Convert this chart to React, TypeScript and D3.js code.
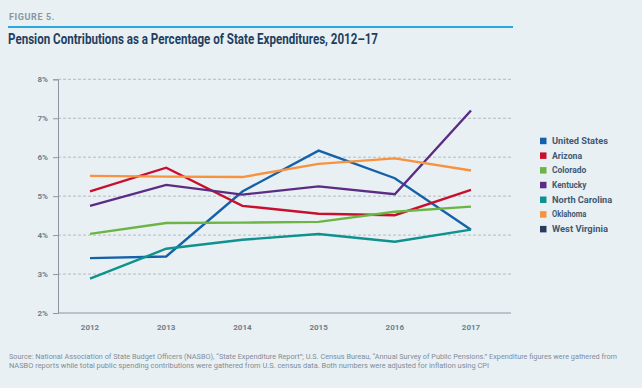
import * as d3 from 'd3'
import React, { useEffect, useRef } from 'react'

const years = ['2012', '2013', '2014', '2015', '2016', '2017']
const yTicks = [2, 3, 4, 5, 6, 7, 8]

const unitedStates = [3.41, 3.45, 5.12, 6.17, 5.46, 4.14]
const arizona = [5.12, 5.73, 4.75, 4.55, 4.51, 5.16]
const colorado = [4.03, 4.31, 4.32, 4.34, 4.6, 4.73]
const kentucky = [4.75, 5.29, 5.04, 5.25, 5.05, 7.2]
const northCarolina = [2.88, 3.65, 3.88, 4.03, 3.83, 4.14]
const oklahoma = [5.52, 5.5, 5.49, 5.83, 5.97, 5.66]
const westVirginia: number[] = []

const series = [
  { name: 'United States', color: '#1461a9', values: unitedStates },
  { name: 'Arizona', color: '#c8102e', values: arizona },
  { name: 'Colorado', color: '#6cb545', values: colorado },
  { name: 'Kentucky', color: '#5b2c83', values: kentucky },
  { name: 'North Carolina', color: '#0f918d', values: northCarolina },
  { name: 'Oklahoma', color: '#f7923e', values: oklahoma },
  { name: 'West Virginia', color: '#2a3a5c', values: westVirginia },
]

const W = 642
const H = 388

export default function App() {
  const svgRef = useRef<SVGSVGElement | null>(null)

  useEffect(() => {
    const svg = d3.select(svgRef.current)
    svg.selectAll('*').remove()

    svg.append('rect').attr('width', W).attr('height', H).attr('fill', '#e9f0f4')

    // header
    svg
      .append('text')
      .attr('x', 9)
      .attr('y', 20)
      .attr('font-family', 'Roboto, sans-serif')
      .attr('font-weight', 700)
      .attr('font-size', 9)
      .attr('letter-spacing', 0.6)
      .attr('fill', '#8796a2')
      .text('FIGURE 5.')
    svg
      .append('line')
      .attr('x1', 8)
      .attr('x2', 513)
      .attr('y1', 27)
      .attr('y2', 27)
      .attr('stroke', '#2ba7df')
      .attr('stroke-width', 2.2)
    svg
      .append('text')
      .attr('x', 8)
      .attr('y', 44)
      .attr('font-family', 'Roboto, sans-serif')
      .attr('font-weight', 700)
      .attr('font-size', 14.5)
      .attr('fill', '#1f3f5f')
      .attr('textLength', 370)
      .attr('lengthAdjust', 'spacingAndGlyphs')
      .text('Pension Contributions as a Percentage of State Expenditures, 2012–17')

    const x = d3.scalePoint<string>().domain(years).range([90, 471])
    const y = d3.scaleLinear().domain([2, 8]).range([313, 79.3])
    const left = 58
    const right = 511

    // grid
    svg
      .append('g')
      .selectAll('line')
      .data(yTicks.filter((t) => t > 2))
      .enter()
      .append('line')
      .attr('x1', left)
      .attr('x2', right)
      .attr('y1', (d) => y(d))
      .attr('y2', (d) => y(d))
      .attr('stroke', '#9aa6b0')
      .attr('stroke-width', 0.7)
      .attr('stroke-dasharray', '3,2')

    // y axis
    const yAxis = svg
      .append('g')
      .attr('transform', `translate(${left},0)`)
      .call(
        d3
          .axisLeft(y)
          .tickValues(yTicks)
          .tickSize(5)
          .tickPadding(5)
          .tickFormat((d) => `${d}%`)
      )
    yAxis.select('.domain').attr('stroke', '#8a98a4').attr('stroke-width', 1)
    yAxis.selectAll('.tick line').attr('stroke', '#8a98a4')
    yAxis
      .selectAll('.tick text')
      .attr('font-family', 'Roboto, sans-serif')
      .attr('font-weight', 700)
      .attr('font-size', 8)
      .attr('fill', '#6e7e8b')

    // x axis
    svg
      .append('line')
      .attr('x1', left)
      .attr('x2', right)
      .attr('y1', y(2))
      .attr('y2', y(2))
      .attr('stroke', '#8a98a4')
      .attr('stroke-width', 1)
    svg
      .append('g')
      .selectAll('text')
      .data(years)
      .enter()
      .append('text')
      .attr('x', (d) => x(d) ?? 0)
      .attr('y', 330)
      .attr('text-anchor', 'middle')
      .attr('font-family', 'Roboto, sans-serif')
      .attr('font-weight', 700)
      .attr('font-size', 8)
      .attr('fill', '#6e7e8b')
      .text((d) => d)

    // lines
    const line = d3
      .line<number>()
      .x((_, i) => x(years[i]) ?? 0)
      .y((d) => y(d))

    svg
      .append('g')
      .selectAll('path')
      .data(series.filter((s) => s.values.length))
      .enter()
      .append('path')
      .attr('d', (d) => line(d.values))
      .attr('fill', 'none')
      .attr('stroke', (d) => d.color)
      .attr('stroke-width', 2.4)
      .attr('stroke-linejoin', 'miter')

    // legend
    const legend = svg
      .append('g')
      .selectAll('g')
      .data(series)
      .enter()
      .append('g')
      .attr('transform', (_, i) => `translate(540,${140.7 + i * 14.7})`)
    legend
      .append('rect')
      .attr('x', 0)
      .attr('y', -3)
      .attr('width', 6.5)
      .attr('height', 6.5)
      .attr('fill', (d) => d.color)
    legend
      .append('text')
      .attr('x', 12)
      .attr('y', 3.2)
      .attr('font-family', 'Roboto, sans-serif')
      .attr('font-weight', 700)
      .attr('font-size', 8.5)
      .attr('fill', '#3f5a72')
      .attr('textLength', (d) => d.name.length * 4.3)
      .attr('lengthAdjust', 'spacingAndGlyphs')
      .text((d) => d.name)

    // source
    const src = [
      'Source: National Association of State Budget Officers (NASBO), “State Expenditure Report”; U.S. Census Bureau, “Annual Survey of Public Pensions.” Expenditure figures were gathered from',
      'NASBO reports while total public spending contributions were gathered from U.S. census data. Both numbers were adjusted for inflation using CPI',
    ]
    const srcLen = [608, 480]
    svg
      .append('g')
      .selectAll('text')
      .data(src)
      .enter()
      .append('text')
      .attr('x', 9)
      .attr('y', (_, i) => 359 + i * 8.5)
      .attr('font-family', 'Roboto, sans-serif')
      .attr('font-size', 6.6)
      .attr('fill', '#7f8d98')
      .attr('textLength', (_, i) => srcLen[i])
      .attr('lengthAdjust', 'spacingAndGlyphs')
      .text((d) => d)
  }, [])

  return (
    <svg
      ref={svgRef}
      width={W}
      height={H}
      style={{ position: 'absolute', left: 0, top: 0, display: 'block' }}
    ></svg>
  )
}
